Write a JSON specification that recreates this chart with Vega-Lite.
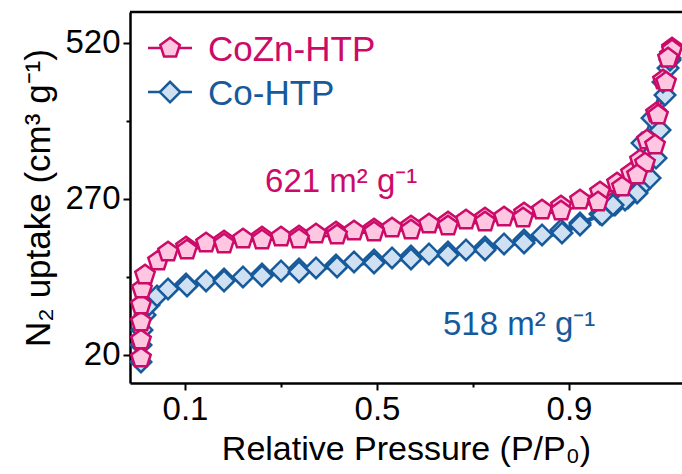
{
  "$schema": "https://vega.github.io/schema/vega-lite/v6.json",
  "autosize": {"type": "none"},
  "width": 552,
  "height": 371,
  "padding": {"left": 130, "top": 12, "right": 0, "bottom": 91},
  "background": "white",
  "config": {
    "view": {"stroke": null},
    "font": "Liberation Sans",
    "axis": {"labelFont": "Liberation Sans", "titleFont": "Liberation Sans", "labelColor": "black", "titleColor": "black", "domainColor": "black", "tickColor": "black", "titleFontWeight": "normal", "grid": false}
  },
  "datasets": {
    "iso": [
      {"series": "Co-HTP", "branch": "ads", "x": 0.0083, "y": 8.8},
      {"series": "Co-HTP", "branch": "ads", "x": 0.0083, "y": 36.0},
      {"series": "Co-HTP", "branch": "ads", "x": 0.0104, "y": 60.0},
      {"series": "Co-HTP", "branch": "ads", "x": 0.0167, "y": 84.0},
      {"series": "Co-HTP", "branch": "ads", "x": 0.025, "y": 100.0},
      {"series": "Co-HTP", "branch": "ads", "x": 0.0417, "y": 114.4},
      {"series": "Co-HTP", "branch": "ads", "x": 0.0646, "y": 125.6},
      {"series": "Co-HTP", "branch": "ads", "x": 0.1021, "y": 133.6},
      {"series": "Co-HTP", "branch": "ads", "x": 0.1438, "y": 138.4},
      {"series": "Co-HTP", "branch": "ads", "x": 0.1813, "y": 141.6},
      {"series": "Co-HTP", "branch": "ads", "x": 0.2208, "y": 144.8},
      {"series": "Co-HTP", "branch": "ads", "x": 0.2604, "y": 149.6},
      {"series": "Co-HTP", "branch": "ads", "x": 0.3, "y": 154.4},
      {"series": "Co-HTP", "branch": "ads", "x": 0.3375, "y": 157.6},
      {"series": "Co-HTP", "branch": "ads", "x": 0.3729, "y": 159.2},
      {"series": "Co-HTP", "branch": "ads", "x": 0.4146, "y": 164.0},
      {"series": "Co-HTP", "branch": "ads", "x": 0.4521, "y": 168.8},
      {"series": "Co-HTP", "branch": "ads", "x": 0.4938, "y": 172.0},
      {"series": "Co-HTP", "branch": "ads", "x": 0.5313, "y": 175.2},
      {"series": "Co-HTP", "branch": "ads", "x": 0.5708, "y": 178.4},
      {"series": "Co-HTP", "branch": "ads", "x": 0.6083, "y": 181.6},
      {"series": "Co-HTP", "branch": "ads", "x": 0.6479, "y": 184.8},
      {"series": "Co-HTP", "branch": "ads", "x": 0.6854, "y": 188.0},
      {"series": "Co-HTP", "branch": "ads", "x": 0.725, "y": 192.8},
      {"series": "Co-HTP", "branch": "ads", "x": 0.7646, "y": 197.6},
      {"series": "Co-HTP", "branch": "ads", "x": 0.8063, "y": 204.0},
      {"series": "Co-HTP", "branch": "ads", "x": 0.8438, "y": 212.0},
      {"series": "Co-HTP", "branch": "ads", "x": 0.8833, "y": 220.0},
      {"series": "Co-HTP", "branch": "ads", "x": 0.9229, "y": 231.2},
      {"series": "Co-HTP", "branch": "ads", "x": 0.9646, "y": 245.6},
      {"series": "Co-HTP", "branch": "ads", "x": 0.9958, "y": 260.0},
      {"series": "Co-HTP", "branch": "ads", "x": 1.0229, "y": 271.2},
      {"series": "Co-HTP", "branch": "ads", "x": 1.0479, "y": 287.2},
      {"series": "Co-HTP", "branch": "ads", "x": 1.0688, "y": 303.2},
      {"series": "Co-HTP", "branch": "ads", "x": 1.0813, "y": 335.2},
      {"series": "Co-HTP", "branch": "ads", "x": 1.0896, "y": 380.0},
      {"series": "Co-HTP", "branch": "ads", "x": 1.1, "y": 436.0},
      {"series": "Co-HTP", "branch": "ads", "x": 1.1063, "y": 479.2},
      {"series": "Co-HTP", "branch": "ads", "x": 1.1104, "y": 495.2},
      {"series": "Co-HTP", "branch": "des", "x": 1.1104, "y": 492.0},
      {"series": "Co-HTP", "branch": "des", "x": 1.0958, "y": 456.8},
      {"series": "Co-HTP", "branch": "des", "x": 1.0729, "y": 399.2},
      {"series": "Co-HTP", "branch": "des", "x": 1.0521, "y": 359.2},
      {"series": "Co-HTP", "branch": "des", "x": 1.0417, "y": 279.2},
      {"series": "Co-HTP", "branch": "des", "x": 1.0167, "y": 268.0},
      {"series": "Co-HTP", "branch": "des", "x": 0.9917, "y": 260.0},
      {"series": "Co-HTP", "branch": "des", "x": 0.9688, "y": 244.0},
      {"series": "Co-HTP", "branch": "des", "x": 0.9229, "y": 228.0},
      {"series": "Co-HTP", "branch": "des", "x": 0.8854, "y": 215.2},
      {"series": "Co-HTP", "branch": "des", "x": 0.8063, "y": 199.2},
      {"series": "Co-HTP", "branch": "des", "x": 0.725, "y": 188.0},
      {"series": "Co-HTP", "branch": "des", "x": 0.6479, "y": 180.0},
      {"series": "Co-HTP", "branch": "des", "x": 0.5708, "y": 173.6},
      {"series": "Co-HTP", "branch": "des", "x": 0.4938, "y": 167.2},
      {"series": "Co-HTP", "branch": "des", "x": 0.4167, "y": 160.8},
      {"series": "Co-HTP", "branch": "des", "x": 0.3375, "y": 152.8},
      {"series": "Co-HTP", "branch": "des", "x": 0.2604, "y": 146.4},
      {"series": "Co-HTP", "branch": "des", "x": 0.1813, "y": 138.4},
      {"series": "Co-HTP", "branch": "des", "x": 0.1042, "y": 130.4},
      {"series": "CoZn-HTP", "branch": "ads", "x": 0.0083, "y": 15.2},
      {"series": "CoZn-HTP", "branch": "ads", "x": 0.0083, "y": 44.0},
      {"series": "CoZn-HTP", "branch": "ads", "x": 0.0083, "y": 72.8},
      {"series": "CoZn-HTP", "branch": "ads", "x": 0.0083, "y": 100.0},
      {"series": "CoZn-HTP", "branch": "ads", "x": 0.0104, "y": 125.6},
      {"series": "CoZn-HTP", "branch": "ads", "x": 0.0167, "y": 148.0},
      {"series": "CoZn-HTP", "branch": "ads", "x": 0.0438, "y": 170.4},
      {"series": "CoZn-HTP", "branch": "ads", "x": 0.0646, "y": 184.8},
      {"series": "CoZn-HTP", "branch": "ads", "x": 0.1021, "y": 192.8},
      {"series": "CoZn-HTP", "branch": "ads", "x": 0.1438, "y": 199.2},
      {"series": "CoZn-HTP", "branch": "ads", "x": 0.1813, "y": 202.4},
      {"series": "CoZn-HTP", "branch": "ads", "x": 0.2208, "y": 205.6},
      {"series": "CoZn-HTP", "branch": "ads", "x": 0.2604, "y": 208.8},
      {"series": "CoZn-HTP", "branch": "ads", "x": 0.3, "y": 208.8},
      {"series": "CoZn-HTP", "branch": "ads", "x": 0.3375, "y": 210.4},
      {"series": "CoZn-HTP", "branch": "ads", "x": 0.3729, "y": 213.6},
      {"series": "CoZn-HTP", "branch": "ads", "x": 0.4146, "y": 216.8},
      {"series": "CoZn-HTP", "branch": "ads", "x": 0.4521, "y": 218.4},
      {"series": "CoZn-HTP", "branch": "ads", "x": 0.4938, "y": 221.6},
      {"series": "CoZn-HTP", "branch": "ads", "x": 0.5313, "y": 223.2},
      {"series": "CoZn-HTP", "branch": "ads", "x": 0.5708, "y": 226.4},
      {"series": "CoZn-HTP", "branch": "ads", "x": 0.6083, "y": 229.6},
      {"series": "CoZn-HTP", "branch": "ads", "x": 0.6479, "y": 232.8},
      {"series": "CoZn-HTP", "branch": "ads", "x": 0.6854, "y": 236.0},
      {"series": "CoZn-HTP", "branch": "ads", "x": 0.725, "y": 239.2},
      {"series": "CoZn-HTP", "branch": "ads", "x": 0.7646, "y": 240.8},
      {"series": "CoZn-HTP", "branch": "ads", "x": 0.8063, "y": 247.2},
      {"series": "CoZn-HTP", "branch": "ads", "x": 0.8438, "y": 252.0},
      {"series": "CoZn-HTP", "branch": "ads", "x": 0.8833, "y": 258.4},
      {"series": "CoZn-HTP", "branch": "ads", "x": 0.9229, "y": 268.0},
      {"series": "CoZn-HTP", "branch": "ads", "x": 0.9646, "y": 280.8},
      {"series": "CoZn-HTP", "branch": "ads", "x": 1.0, "y": 295.2},
      {"series": "CoZn-HTP", "branch": "ads", "x": 1.0292, "y": 311.2},
      {"series": "CoZn-HTP", "branch": "ads", "x": 1.0479, "y": 332.0},
      {"series": "CoZn-HTP", "branch": "ads", "x": 1.0625, "y": 364.0},
      {"series": "CoZn-HTP", "branch": "ads", "x": 1.0813, "y": 407.2},
      {"series": "CoZn-HTP", "branch": "ads", "x": 1.0958, "y": 460.0},
      {"series": "CoZn-HTP", "branch": "ads", "x": 1.1104, "y": 500.0},
      {"series": "CoZn-HTP", "branch": "ads", "x": 1.1146, "y": 511.2},
      {"series": "CoZn-HTP", "branch": "des", "x": 1.1146, "y": 508.0},
      {"series": "CoZn-HTP", "branch": "des", "x": 1.1063, "y": 495.2},
      {"series": "CoZn-HTP", "branch": "des", "x": 1.1021, "y": 456.8},
      {"series": "CoZn-HTP", "branch": "des", "x": 1.0854, "y": 404.0},
      {"series": "CoZn-HTP", "branch": "des", "x": 1.0792, "y": 356.0},
      {"series": "CoZn-HTP", "branch": "des", "x": 1.0583, "y": 327.2},
      {"series": "CoZn-HTP", "branch": "des", "x": 1.0417, "y": 308.0},
      {"series": "CoZn-HTP", "branch": "des", "x": 1.0104, "y": 288.8},
      {"series": "CoZn-HTP", "branch": "des", "x": 0.9604, "y": 264.8},
      {"series": "CoZn-HTP", "branch": "des", "x": 0.8833, "y": 250.4},
      {"series": "CoZn-HTP", "branch": "des", "x": 0.8042, "y": 239.2},
      {"series": "CoZn-HTP", "branch": "des", "x": 0.725, "y": 232.8},
      {"series": "CoZn-HTP", "branch": "des", "x": 0.6479, "y": 226.4},
      {"series": "CoZn-HTP", "branch": "des", "x": 0.5708, "y": 220.0},
      {"series": "CoZn-HTP", "branch": "des", "x": 0.4938, "y": 216.8},
      {"series": "CoZn-HTP", "branch": "des", "x": 0.4167, "y": 212.0},
      {"series": "CoZn-HTP", "branch": "des", "x": 0.3375, "y": 205.6},
      {"series": "CoZn-HTP", "branch": "des", "x": 0.2604, "y": 204.0},
      {"series": "CoZn-HTP", "branch": "des", "x": 0.1813, "y": 197.6},
      {"series": "CoZn-HTP", "branch": "des", "x": 0.1042, "y": 188.0}
    ],
    "legline": [
      {"series": "CoZn-HTP", "x": 0.0229, "y": 511.2},
      {"series": "CoZn-HTP", "x": 0.1146, "y": 511.2},
      {"series": "Co-HTP", "x": 0.0229, "y": 440.8},
      {"series": "Co-HTP", "x": 0.1146, "y": 440.8}
    ],
    "legpt": [
      {"series": "Co-HTP", "x": 0.0688, "y": 440.8, "label": "Co-HTP", "lx": 0.1479},
      {"series": "CoZn-HTP", "x": 0.0688, "y": 511.2, "label": "CoZn-HTP", "lx": 0.1479}
    ],
    "ann": [
      {"series": "CoZn-HTP", "x": 0.2667, "y": 280.8, "label": "621 m² g⁻¹"},
      {"series": "Co-HTP", "x": 0.6375, "y": 52.0, "label": "518 m² g⁻¹"}
    ],
    "frame": [
      {"x": -0.0146, "x2": 1.1354, "y": 569}
    ]
  },
  "encoding": {
    "x": {"field": "x", "type": "quantitative", "scale": {"domain": [-0.0146, 1.1354], "nice": false, "zero": false},
      "axis": {"orient": "bottom", "values": [0.1, 0.3, 0.5, 0.7, 0.9], "format": ".1f",
        "labelExpr": "(abs(datum.value-0.3)<0.01 || abs(datum.value-0.7)<0.01) ? '' : datum.label",
        "tickSize": {"condition": {"test": "abs(datum.value-0.3)<0.01 || abs(datum.value-0.7)<0.01", "value": 4}, "value": 7},
        "tickWidth": 2, "domainWidth": 2.5, "labelFontSize": 33, "labelPadding": 3,
        "title": "Relative Pressure (P/P₀)", "titleFontSize": 34, "titlePadding": 6}},
    "y": {"field": "y", "type": "quantitative", "scale": {"domain": [-25, 569], "nice": false, "zero": false},
      "axis": {"values": [20, 145, 270, 395, 520],
        "labelExpr": "(datum.value==145 || datum.value==395) ? '' : datum.label",
        "tickSize": {"condition": {"test": "datum.value==145 || datum.value==395", "value": 4}, "value": 7},
        "tickWidth": 2, "domainWidth": 2.5, "labelFontSize": 33, "labelPadding": 3,
        "title": "N₂ uptake (cm³ g⁻¹)", "titleFontSize": 35, "titlePadding": 8}}
  },
  "layer": [
    {
      "data": {"name": "frame"},
      "mark": {"type": "rule", "strokeWidth": 2.5, "color": "black"},
      "encoding": {
        "x": {"field": "x", "type": "quantitative"},
        "x2": {"field": "x2"},
        "y": {"field": "y", "type": "quantitative"}
      }
    },
    {
      "data": {"name": "iso"},
      "mark": {"type": "line", "strokeWidth": 2.5},
      "encoding": {
        "detail": {"field": "branch"},
        "stroke": {"field": "series", "type": "nominal", "scale": {"domain": ["CoZn-HTP", "Co-HTP"], "range": ["#cc0a68", "#165a9c"]}, "legend": null}
      }
    },
    {
      "data": {"name": "iso"},
      "mark": {"type": "point", "filled": false, "strokeWidth": 2.5, "opacity": 1},
      "encoding": {
        "stroke": {"field": "series", "type": "nominal", "scale": {"domain": ["CoZn-HTP", "Co-HTP"], "range": ["#cc0a68", "#165a9c"]}, "legend": null},
        "fill": {"field": "series", "type": "nominal", "scale": {"domain": ["CoZn-HTP", "Co-HTP"], "range": ["#ffc6e1", "#cfe0f2"]}, "legend": null},
        "shape": {"field": "series", "type": "nominal", "scale": {"domain": ["CoZn-HTP", "Co-HTP"], "range": ["M0,-1L0.951,-0.309L0.588,0.809L-0.588,0.809L-0.951,-0.309Z", "diamond"]}, "legend": null},
        "size": {"value": 420}
      }
    },
    {
      "data": {"name": "legline"},
      "mark": {"type": "line", "strokeWidth": 2.5},
      "encoding": {
        "detail": {"field": "series"},
        "stroke": {"field": "series", "type": "nominal", "scale": {"domain": ["CoZn-HTP", "Co-HTP"], "range": ["#cc0a68", "#165a9c"]}, "legend": null}
      }
    },
    {
      "data": {"name": "legpt"},
      "mark": {"type": "point", "filled": false, "strokeWidth": 2.5, "opacity": 1},
      "encoding": {
        "stroke": {"field": "series", "type": "nominal", "scale": {"domain": ["CoZn-HTP", "Co-HTP"], "range": ["#cc0a68", "#165a9c"]}, "legend": null},
        "fill": {"field": "series", "type": "nominal", "scale": {"domain": ["CoZn-HTP", "Co-HTP"], "range": ["#ffc6e1", "#cfe0f2"]}, "legend": null},
        "shape": {"field": "series", "type": "nominal", "scale": {"domain": ["CoZn-HTP", "Co-HTP"], "range": ["M0,-1L0.951,-0.309L0.588,0.809L-0.588,0.809L-0.951,-0.309Z", "diamond"]}, "legend": null},
        "size": {"value": 420}
      }
    },
    {
      "data": {"name": "legpt"},
      "mark": {"type": "text", "align": "left", "baseline": "middle", "fontSize": 35, "dy": 2},
      "encoding": {
        "x": {"field": "lx", "type": "quantitative"},
        "text": {"field": "label"},
        "color": {"field": "series", "type": "nominal", "scale": {"domain": ["CoZn-HTP", "Co-HTP"], "range": ["#cc0a68", "#165a9c"]}, "legend": null}
      }
    },
    {
      "data": {"name": "ann"},
      "mark": {"type": "text", "align": "left", "baseline": "alphabetic", "fontSize": 33},
      "encoding": {
        "text": {"field": "label"},
        "color": {"field": "series", "type": "nominal", "scale": {"domain": ["CoZn-HTP", "Co-HTP"], "range": ["#cc0a68", "#165a9c"]}, "legend": null}
      }
    }
  ],
  "resolve": {"scale": {"fill": "independent", "color": "independent"}}
}
